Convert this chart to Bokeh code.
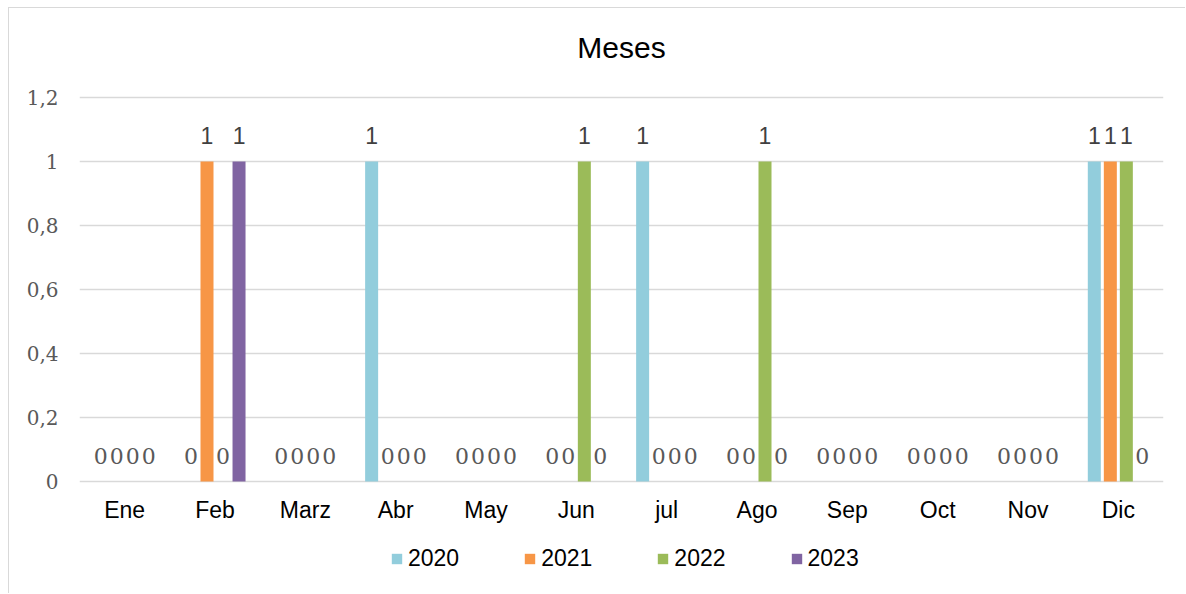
from bokeh.plotting import figure
from bokeh.models import ColumnDataSource, FactorRange, Legend, LegendItem, FixedTicker, CustomJSTickFormatter, Range1d
from bokeh.transform import dodge
from bokeh.core.properties import value
from bokeh.embed import file_html
from bokeh.resources import INLINE

title_text = "Meses"
months = ["Ene", "Feb", "Marz", "Abr", "May", "Jun", "jul", "Ago", "Sep", "Oct", "Nov", "Dic"]
years = ["2020", "2021", "2022", "2023"]
v2020 = [0, 0, 0, 1, 0, 0, 1, 0, 0, 0, 0, 1]
v2021 = [0, 1, 0, 0, 0, 0, 0, 0, 0, 0, 0, 1]
v2022 = [0, 0, 0, 0, 0, 1, 0, 1, 0, 0, 0, 1]
v2023 = [0, 1, 0, 0, 0, 0, 0, 0, 0, 0, 0, 0]
y_ticks = [0, 0.2, 0.4, 0.6, 0.8, 1.0, 1.2]

series = [v2020, v2021, v2022, v2023]
colors = ["#92CDDC", "#F79646", "#9BBB59", "#8064A2"]
offsets = [-0.266, -0.0886, 0.0886, 0.266]
bar_w = 0.144
lab_off = 0.08

H = 586
px_per_unit = 320.0
y_top_tick = 1.2
y_max = y_top_tick + 89 / px_per_unit
y_min = y_max - H / px_per_unit

p = figure(x_range=FactorRange(*months), y_range=Range1d(y_min, y_max),
           width=1177, height=H, output_backend="svg", toolbar_location=None,
           min_border_left=70, min_border_right=23, min_border_top=0, min_border_bottom=0)
p.styles = {"border-left": "1px solid #d9d9d9", "border-top": "1px solid #d9d9d9",
            "margin-left": "8px", "margin-top": "7px"}
p.outline_line_color = None

# chart title drawn in the extended frame, centred over the categories
title_src = ColumnDataSource(dict(x=[6.0], y=[y_top_tick + 50 / px_per_unit], t=[title_text]))
p.text(x="x", y="y", text="t", source=title_src, text_align="center", text_baseline="middle",
       text_font=value("Liberation Sans"), text_font_size="30px", text_color="#000000")

items = []
for yr, vals, col, off in zip(years, series, colors, offsets):
    src = ColumnDataSource(dict(m=months, v=vals))
    r = p.vbar(x=dodge("m", off, range=p.x_range), top="v", width=bar_w, source=src,
               fill_color=col, line_color=None)
    items.append(LegendItem(label=yr, renderers=[r]))
    src0 = ColumnDataSource(dict(
        m=[m for m, v in zip(months, vals) if v == 0],
        ly=[v + lab_off for v in vals if v == 0],
        txt=[str(v) for v in vals if v == 0]))
    src1 = ColumnDataSource(dict(
        m=[m for m, v in zip(months, vals) if v != 0],
        ly=[v + lab_off for v in vals if v != 0],
        txt=[str(v) for v in vals if v != 0]))
    p.text(x=dodge("m", off, range=p.x_range), y="ly", text="txt", source=src0,
           text_align="center", text_baseline="middle", text_font=value("DejaVu Serif"),
           text_font_size="22px", text_color="#595959")
    p.text(x=dodge("m", off, range=p.x_range), y="ly", text="txt", source=src1,
           text_align="center", text_baseline="middle", text_font=value("Liberation Sans"),
           text_font_size="23px", text_color="#404040")

# category labels below the baseline
cat_src = ColumnDataSource(dict(m=months, y=[-0.0906] * len(months)))
p.text(x="m", y="y", text="m", source=cat_src, text_align="center", text_baseline="middle",
       text_font=value("Liberation Sans"), text_font_size="23px", text_color="#000000")

p.xaxis.visible = False
p.xgrid.grid_line_color = None
p.ygrid.grid_line_color = "#d9d9d9"
p.ygrid.grid_line_width = 1.5
p.ygrid.ticker = FixedTicker(ticks=y_ticks)
p.yaxis.ticker = FixedTicker(ticks=y_ticks)
p.yaxis.formatter = CustomJSTickFormatter(code="var s = (Math.round(tick*10)/10).toString(); return s.replace('.', ',');")
p.yaxis.axis_line_color = None
p.yaxis.major_tick_line_color = None
p.yaxis.minor_tick_line_color = None
p.yaxis.major_label_text_font = "DejaVu Serif"
p.yaxis.major_label_text_font_size = "20px"
p.yaxis.major_label_text_color = "#595959"
p.yaxis.major_label_standoff = 15

legend = Legend(items=items, orientation="horizontal", location=(311, 22),
                glyph_width=13, glyph_height=13, label_standoff=5, spacing=64,
                padding=0, margin=0, border_line_color=None, background_fill_alpha=0,
                label_text_font="Liberation Sans", label_text_font_size="23px",
                label_text_color="#000000", label_height=13)
p.add_layout(legend, "center")

open("out.html", "w").write(file_html(p, INLINE))
